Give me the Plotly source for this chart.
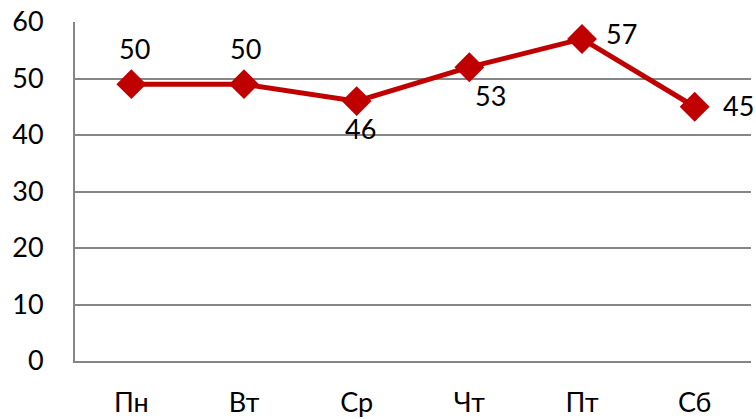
import plotly.graph_objects as go

days = ["Пн", "Вт", "Ср", "Чт", "Пт", "Сб"]
values = [49, 49, 46, 52, 57, 45]
labels = ["50", "50", "46", "53", "57", "45"]
y_ticks = [0, 10, 20, 30, 40, 50, 60]

# label offsets (pixels) relative to each point
label_dx = [3, 1, 4, 21, 39, 44]
label_dy = [34, 34, -29, -30, 3, -1]

FONT = "Lato"
FS = 27
RED = "#C00000"
GRID = "#868686"

fig = go.Figure()
fig.add_trace(go.Scatter(
    x=days, y=values, mode="lines+markers",
    line=dict(color=RED, width=5),
    marker=dict(symbol="diamond", size=23, color=RED),
    cliponaxis=False,
))
for d, v, t, dx, dy in zip(days, values, labels, label_dx, label_dy):
    fig.add_annotation(
        x=d, y=v, text=t, showarrow=False, xshift=dx, yshift=dy + 2,
        font=dict(family=FONT, size=FS, color="#000000"),
        xanchor="center", yanchor="middle",
    )
fig.update_layout(
    width=756, height=419,
    margin=dict(l=75, r=5, t=22, b=58, autoexpand=False),
    paper_bgcolor="white", plot_bgcolor="white",
    showlegend=False,
    font=dict(family=FONT, size=FS, color="#000000"),
)
fig.update_yaxes(
    range=[0, 60], tickvals=y_ticks, showgrid=True, gridcolor=GRID, gridwidth=2,
    showline=True, linecolor=GRID, linewidth=2, zeroline=False, automargin=False,
    ticks="", ticklabelstandoff=24, ticklabeloverflow="allow",
    tickfont=dict(family=FONT, size=FS),
)
fig.update_xaxes(
    range=[-0.5, len(days) - 0.5],
    showgrid=False, showline=True, linecolor=GRID, linewidth=2, automargin=False,
    ticks="", ticklabelstandoff=17, ticklabeloverflow="allow",
    tickfont=dict(family=FONT, size=FS),
)
fig.write_html(
    "out.html",
    config={"displayModeBar": False},
    post_script="document.body.style.margin='0';document.body.style.overflow='hidden';",
)
